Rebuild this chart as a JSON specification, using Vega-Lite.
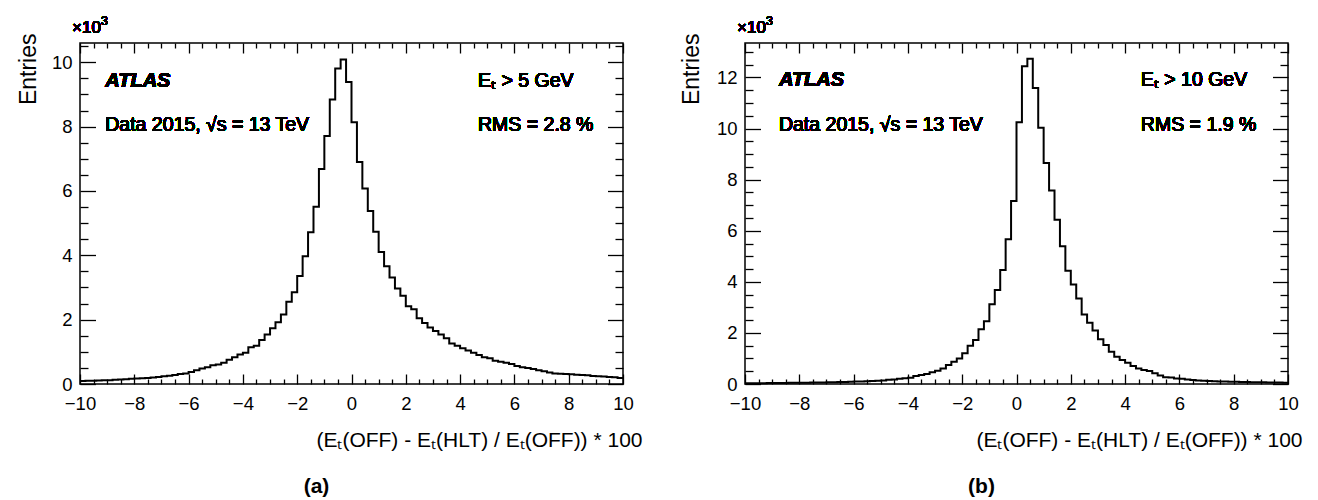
{
"$schema": "https://vega.github.io/schema/vega-lite/v6.json",
"background": "white",
"padding": {"left": 16, "top": 14, "right": 5, "bottom": 0},
"autosize": {"type": "pad"},
"spacing": 122,
"bounds": "flush",
"datasets": {
"a": [
{"lo":-10,"hi":-9.8,"n":90},{"lo":-9.8,"hi":-9.6,"n":100},{"lo":-9.6,"hi":-9.4,"n":100},{"lo":-9.4,"hi":-9.2,"n":110},{"lo":-9.2,"hi":-9,"n":120},
{"lo":-9,"hi":-8.8,"n":120},{"lo":-8.8,"hi":-8.6,"n":130},{"lo":-8.6,"hi":-8.4,"n":140},{"lo":-8.4,"hi":-8.2,"n":150},{"lo":-8.2,"hi":-8,"n":160},
{"lo":-8,"hi":-7.8,"n":170},{"lo":-7.8,"hi":-7.6,"n":180},{"lo":-7.6,"hi":-7.4,"n":190},{"lo":-7.4,"hi":-7.2,"n":200},{"lo":-7.2,"hi":-7,"n":220},
{"lo":-7,"hi":-6.8,"n":240},{"lo":-6.8,"hi":-6.6,"n":260},{"lo":-6.6,"hi":-6.4,"n":280},{"lo":-6.4,"hi":-6.2,"n":310},{"lo":-6.2,"hi":-6,"n":330},
{"lo":-6,"hi":-5.8,"n":370},{"lo":-5.8,"hi":-5.6,"n":430},{"lo":-5.6,"hi":-5.4,"n":480},{"lo":-5.4,"hi":-5.2,"n":520},{"lo":-5.2,"hi":-5,"n":580},
{"lo":-5,"hi":-4.8,"n":610},{"lo":-4.8,"hi":-4.6,"n":660},{"lo":-4.6,"hi":-4.4,"n":750},{"lo":-4.4,"hi":-4.2,"n":830},{"lo":-4.2,"hi":-4,"n":920},
{"lo":-4,"hi":-3.8,"n":970},{"lo":-3.8,"hi":-3.6,"n":1140},{"lo":-3.6,"hi":-3.4,"n":1190},{"lo":-3.4,"hi":-3.2,"n":1370},{"lo":-3.2,"hi":-3,"n":1540},
{"lo":-3,"hi":-2.8,"n":1730},{"lo":-2.8,"hi":-2.6,"n":1920},{"lo":-2.6,"hi":-2.4,"n":2160},{"lo":-2.4,"hi":-2.2,"n":2560},{"lo":-2.2,"hi":-2,"n":2850},
{"lo":-2,"hi":-1.8,"n":3360},{"lo":-1.8,"hi":-1.6,"n":3970},{"lo":-1.6,"hi":-1.4,"n":4720},{"lo":-1.4,"hi":-1.2,"n":5510},{"lo":-1.2,"hi":-1,"n":6680},
{"lo":-1,"hi":-0.8,"n":7710},{"lo":-0.8,"hi":-0.6,"n":8840},{"lo":-0.6,"hi":-0.4,"n":9810},{"lo":-0.4,"hi":-0.2,"n":10090},{"lo":-0.2,"hi":0,"n":9390},
{"lo":0,"hi":0.2,"n":8140},{"lo":0.2,"hi":0.4,"n":6900},{"lo":0.4,"hi":0.6,"n":6080},{"lo":0.6,"hi":0.8,"n":5380},{"lo":0.8,"hi":1,"n":4730},
{"lo":1,"hi":1.2,"n":4100},{"lo":1.2,"hi":1.4,"n":3660},{"lo":1.4,"hi":1.6,"n":3310},{"lo":1.6,"hi":1.8,"n":2970},{"lo":1.8,"hi":2,"n":2740},
{"lo":2,"hi":2.2,"n":2420},{"lo":2.2,"hi":2.4,"n":2320},{"lo":2.4,"hi":2.6,"n":2040},{"lo":2.6,"hi":2.8,"n":1900},{"lo":2.8,"hi":3,"n":1760},
{"lo":3,"hi":3.2,"n":1650},{"lo":3.2,"hi":3.4,"n":1540},{"lo":3.4,"hi":3.6,"n":1420},{"lo":3.6,"hi":3.8,"n":1260},{"lo":3.8,"hi":4,"n":1190},
{"lo":4,"hi":4.2,"n":1110},{"lo":4.2,"hi":4.4,"n":1040},{"lo":4.4,"hi":4.6,"n":970},{"lo":4.6,"hi":4.8,"n":900},{"lo":4.8,"hi":5,"n":830},
{"lo":5,"hi":5.2,"n":800},{"lo":5.2,"hi":5.4,"n":720},{"lo":5.4,"hi":5.6,"n":690},{"lo":5.6,"hi":5.8,"n":660},{"lo":5.8,"hi":6,"n":620},
{"lo":6,"hi":6.2,"n":560},{"lo":6.2,"hi":6.4,"n":520},{"lo":6.4,"hi":6.6,"n":500},{"lo":6.6,"hi":6.8,"n":470},{"lo":6.8,"hi":7,"n":430},
{"lo":7,"hi":7.2,"n":400},{"lo":7.2,"hi":7.4,"n":360},{"lo":7.4,"hi":7.6,"n":330},{"lo":7.6,"hi":7.8,"n":320},{"lo":7.8,"hi":8,"n":310},
{"lo":8,"hi":8.2,"n":300},{"lo":8.2,"hi":8.4,"n":290},{"lo":8.4,"hi":8.6,"n":280},{"lo":8.6,"hi":8.8,"n":270},{"lo":8.8,"hi":9,"n":250},
{"lo":9,"hi":9.2,"n":240},{"lo":9.2,"hi":9.4,"n":230},{"lo":9.4,"hi":9.6,"n":220},{"lo":9.6,"hi":9.8,"n":210},{"lo":9.8,"hi":10,"n":190}
],
"b": [
{"lo":-10,"hi":-9.8,"n":30},{"lo":-9.8,"hi":-9.6,"n":30},{"lo":-9.6,"hi":-9.4,"n":30},{"lo":-9.4,"hi":-9.2,"n":30},{"lo":-9.2,"hi":-9,"n":40},
{"lo":-9,"hi":-8.8,"n":40},{"lo":-8.8,"hi":-8.6,"n":40},{"lo":-8.6,"hi":-8.4,"n":40},{"lo":-8.4,"hi":-8.2,"n":50},{"lo":-8.2,"hi":-8,"n":50},
{"lo":-8,"hi":-7.8,"n":50},{"lo":-7.8,"hi":-7.6,"n":50},{"lo":-7.6,"hi":-7.4,"n":60},{"lo":-7.4,"hi":-7.2,"n":60},{"lo":-7.2,"hi":-7,"n":60},
{"lo":-7,"hi":-6.8,"n":70},{"lo":-6.8,"hi":-6.6,"n":70},{"lo":-6.6,"hi":-6.4,"n":80},{"lo":-6.4,"hi":-6.2,"n":80},{"lo":-6.2,"hi":-6,"n":90},
{"lo":-6,"hi":-5.8,"n":100},{"lo":-5.8,"hi":-5.6,"n":100},{"lo":-5.6,"hi":-5.4,"n":110},{"lo":-5.4,"hi":-5.2,"n":120},{"lo":-5.2,"hi":-5,"n":130},
{"lo":-5,"hi":-4.8,"n":140},{"lo":-4.8,"hi":-4.6,"n":170},{"lo":-4.6,"hi":-4.4,"n":180},{"lo":-4.4,"hi":-4.2,"n":210},{"lo":-4.2,"hi":-4,"n":230},
{"lo":-4,"hi":-3.8,"n":240},{"lo":-3.8,"hi":-3.6,"n":310},{"lo":-3.6,"hi":-3.4,"n":350},{"lo":-3.4,"hi":-3.2,"n":390},{"lo":-3.2,"hi":-3,"n":460},
{"lo":-3,"hi":-2.8,"n":520},{"lo":-2.8,"hi":-2.6,"n":610},{"lo":-2.6,"hi":-2.4,"n":740},{"lo":-2.4,"hi":-2.2,"n":870},{"lo":-2.2,"hi":-2,"n":1000},
{"lo":-2,"hi":-1.8,"n":1200},{"lo":-1.8,"hi":-1.6,"n":1500},{"lo":-1.6,"hi":-1.4,"n":1720},{"lo":-1.4,"hi":-1.2,"n":2140},{"lo":-1.2,"hi":-1,"n":2460},
{"lo":-1,"hi":-0.8,"n":3120},{"lo":-0.8,"hi":-0.6,"n":3680},{"lo":-0.6,"hi":-0.4,"n":4460},{"lo":-0.4,"hi":-0.2,"n":5670},{"lo":-0.2,"hi":0,"n":7160},
{"lo":0,"hi":0.2,"n":10250},{"lo":0.2,"hi":0.4,"n":12440},{"lo":0.4,"hi":0.6,"n":12730},{"lo":0.6,"hi":0.8,"n":11590},{"lo":0.8,"hi":1,"n":10030},
{"lo":1,"hi":1.2,"n":8650},{"lo":1.2,"hi":1.4,"n":7580},{"lo":1.4,"hi":1.6,"n":6430},{"lo":1.6,"hi":1.8,"n":5390},{"lo":1.8,"hi":2,"n":4430},
{"lo":2,"hi":2.2,"n":3900},{"lo":2.2,"hi":2.4,"n":3350},{"lo":2.4,"hi":2.6,"n":2720},{"lo":2.6,"hi":2.8,"n":2400},{"lo":2.8,"hi":3,"n":2090},
{"lo":3,"hi":3.2,"n":1750},{"lo":3.2,"hi":3.4,"n":1530},{"lo":3.4,"hi":3.6,"n":1260},{"lo":3.6,"hi":3.8,"n":1070},{"lo":3.8,"hi":4,"n":940},
{"lo":4,"hi":4.2,"n":830},{"lo":4.2,"hi":4.4,"n":700},{"lo":4.4,"hi":4.6,"n":610},{"lo":4.6,"hi":4.8,"n":550},{"lo":4.8,"hi":5,"n":510},
{"lo":5,"hi":5.2,"n":420},{"lo":5.2,"hi":5.4,"n":330},{"lo":5.4,"hi":5.6,"n":260},{"lo":5.6,"hi":5.8,"n":250},{"lo":5.8,"hi":6,"n":220},
{"lo":6,"hi":6.2,"n":210},{"lo":6.2,"hi":6.4,"n":180},{"lo":6.4,"hi":6.6,"n":160},{"lo":6.6,"hi":6.8,"n":140},{"lo":6.8,"hi":7,"n":130},
{"lo":7,"hi":7.2,"n":120},{"lo":7.2,"hi":7.4,"n":110},{"lo":7.4,"hi":7.6,"n":100},{"lo":7.6,"hi":7.8,"n":100},{"lo":7.8,"hi":8,"n":90},
{"lo":8,"hi":8.2,"n":90},{"lo":8.2,"hi":8.4,"n":80},{"lo":8.4,"hi":8.6,"n":80},{"lo":8.6,"hi":8.8,"n":70},{"lo":8.8,"hi":9,"n":70},
{"lo":9,"hi":9.2,"n":70},{"lo":9.2,"hi":9.4,"n":60},{"lo":9.4,"hi":9.6,"n":60},{"lo":9.6,"hi":9.8,"n":60},{"lo":9.8,"hi":10,"n":50}
]
},
"hconcat": [
{
"width": 543, "height": 341,
"data": {"name": "a"},
"title": {"text": "(a)", "orient": "bottom", "anchor": "middle", "dx": -35, "offset": 26, "font": "Liberation Sans", "fontSize": 21, "fontWeight": "bold", "color": "black"},
"resolve": {"axis": {"x": "independent", "y": "independent"}},
"layer": [
{
"transform": [{"fold": ["lo", "hi"], "as": ["edge", "xv"]}],
"mark": {"type": "line", "color": "black", "strokeWidth": 2},
"encoding": {
"x": {"field": "xv", "type": "quantitative", "scale": {"domain": [-10, 10], "nice": false, "zero": false},
"axis": {"orient": "bottom", "values": [-10,-9.5,-9,-8.5,-8,-7.5,-7,-6.5,-6,-5.5,-5,-4.5,-4,-3.5,-3,-2.5,-2,-1.5,-1,-0.5,0,0.5,1,1.5,2,2.5,3,3.5,4,4.5,5,5.5,6,6.5,7,7.5,8,8.5,9,9.5,10],
"domain": false, "grid": false,
"tickSize": {"condition": {"test": "datum.value % 2 === 0", "value": -10}, "value": -5},
"labelExpr": "datum.value % 2 === 0 ? format(datum.value, 'd') : ''",
"labelPadding": 20, "labelFlush": false, "labelOverlap": false, "labelBaseline": "top",
"labelFont": "Liberation Sans", "labelFontSize": 18.5, "labelColor": "black",
"tickColor": "black", "tickWidth": 1.3,
"title": "(Eₜ(OFF) - Eₜ(HLT) / Eₜ(OFF)) * 100", "titleFont": "Liberation Sans", "titleFontSize": 21, "titleFontWeight": "normal", "titleColor": "black",
"titleAnchor": "end", "titleAlign": "right", "titleX": 562, "titleY": 62, "titleBaseline": "alphabetic"}},
"y": {"field": "n", "type": "quantitative", "scale": {"domain": [0, 10600], "nice": false},
"axis": {"orient": "left", "values": [0,500,1000,1500,2000,2500,3000,3500,4000,4500,5000,5500,6000,6500,7000,7500,8000,8500,9000,9500,10000,10500],
"domain": false, "grid": false,
"tickSize": {"condition": {"test": "datum.value % 2000 === 0", "value": -15.5}, "value": -8},
"labelExpr": "datum.value % 2000 === 0 ? format(datum.value / 1000, 'd') : ''",
"labelPadding": 23.5, "labelOverlap": false, "labelFlush": false,
"labelFont": "Liberation Sans", "labelFontSize": 18.5, "labelColor": "black",
"tickColor": "black", "tickWidth": 1.3,
"title": "Entries", "titleFont": "Liberation Sans", "titleFontSize": 23, "titleFontWeight": "normal", "titleColor": "black",
"titleAngle": 270, "titleAlign": "right", "titleAnchor": "end", "titleX": -52, "titleY": -10, "titleBaseline": "middle"}},
"order": [{"field": "xv", "type": "quantitative"}, {"field": "edge"}]
}
},
{
"mark": {"type": "text", "align": "left", "baseline": "middle", "font": "Liberation Sans", "fontSize": 20, "fontWeight": "bold", "fontStyle": "italic", "color": "black", "text": "ATLAS"},
"encoding": {
"x": {"datum": -9.07, "type": "quantitative", "scale": {"domain": [-10, 10], "nice": false, "zero": false},
"axis": {"orient": "top", "values": [-10,-9.5,-9,-8.5,-8,-7.5,-7,-6.5,-6,-5.5,-5,-4.5,-4,-3.5,-3,-2.5,-2,-1.5,-1,-0.5,0,0.5,1,1.5,2,2.5,3,3.5,4,4.5,5,5.5,6,6.5,7,7.5,8,8.5,9,9.5,10],
"domain": false, "grid": false, "labels": false, "title": null,
"tickSize": {"condition": {"test": "datum.value % 2 === 0", "value": -10}, "value": -5},
"tickColor": "black", "tickWidth": 1.3}},
"y": {"datum": 9430, "type": "quantitative", "scale": {"domain": [0, 10600], "nice": false},
"axis": {"orient": "right", "values": [0,500,1000,1500,2000,2500,3000,3500,4000,4500,5000,5500,6000,6500,7000,7500,8000,8500,9000,9500,10000,10500],
"domain": false, "grid": false, "labels": false, "title": null,
"tickSize": {"condition": {"test": "datum.value % 2000 === 0", "value": -15.5}, "value": -8},
"tickColor": "black", "tickWidth": 1.3}}
}
},
{
"mark": {"type": "text", "align": "left", "baseline": "middle", "font": "Liberation Sans", "fontSize": 19.5, "color": "black", "text": "Data 2015, √s = 13 TeV"},
"encoding": {"x": {"datum": -9.07, "type": "quantitative", "axis": null}, "y": {"datum": 8040, "type": "quantitative", "axis": null}}
},
{
"mark": {"type": "text", "align": "left", "baseline": "middle", "font": "Liberation Sans", "fontSize": 19.5, "color": "black", "text": "Eₜ > 5 GeV"},
"encoding": {"x": {"datum": 4.66, "type": "quantitative", "axis": null}, "y": {"datum": 9430, "type": "quantitative", "axis": null}}
},
{
"mark": {"type": "text", "align": "left", "baseline": "middle", "font": "Liberation Sans", "fontSize": 19.5, "color": "black", "text": "RMS = 2.8 %"},
"encoding": {"x": {"datum": 4.66, "type": "quantitative", "axis": null}, "y": {"datum": 8040, "type": "quantitative", "axis": null}}
},
{
"mark": {"type": "text", "align": "left", "baseline": "alphabetic", "dx": -8, "dy": -10, "font": "Liberation Sans", "fontSize": 17, "color": "black", "text": "×10"},
"encoding": {"x": {"datum": -10, "type": "quantitative", "axis": null}, "y": {"datum": 10600, "type": "quantitative", "axis": null}}
},
{
"mark": {"type": "text", "align": "left", "baseline": "alphabetic", "dx": 21, "dy": -18, "font": "Liberation Sans", "fontSize": 12.5, "color": "black", "text": "3"},
"encoding": {"x": {"datum": -10, "type": "quantitative", "axis": null}, "y": {"datum": 10600, "type": "quantitative", "axis": null}}
}
]
},
{
"width": 543, "height": 341,
"data": {"name": "b"},
"title": {"text": "(b)", "orient": "bottom", "anchor": "middle", "dx": -35, "offset": 26, "font": "Liberation Sans", "fontSize": 21, "fontWeight": "bold", "color": "black"},
"resolve": {"axis": {"x": "independent", "y": "independent"}},
"layer": [
{
"transform": [{"fold": ["lo", "hi"], "as": ["edge", "xv"]}],
"mark": {"type": "line", "color": "black", "strokeWidth": 2},
"encoding": {
"x": {"field": "xv", "type": "quantitative", "scale": {"domain": [-10, 10], "nice": false, "zero": false},
"axis": {"orient": "bottom", "values": [-10,-9.5,-9,-8.5,-8,-7.5,-7,-6.5,-6,-5.5,-5,-4.5,-4,-3.5,-3,-2.5,-2,-1.5,-1,-0.5,0,0.5,1,1.5,2,2.5,3,3.5,4,4.5,5,5.5,6,6.5,7,7.5,8,8.5,9,9.5,10],
"domain": false, "grid": false,
"tickSize": {"condition": {"test": "datum.value % 2 === 0", "value": -10}, "value": -5},
"labelExpr": "datum.value % 2 === 0 ? format(datum.value, 'd') : ''",
"labelPadding": 20, "labelFlush": false, "labelOverlap": false, "labelBaseline": "top",
"labelFont": "Liberation Sans", "labelFontSize": 18.5, "labelColor": "black",
"tickColor": "black", "tickWidth": 1.3,
"title": "(Eₜ(OFF) - Eₜ(HLT) / Eₜ(OFF)) * 100", "titleFont": "Liberation Sans", "titleFontSize": 21, "titleFontWeight": "normal", "titleColor": "black",
"titleAnchor": "end", "titleAlign": "right", "titleX": 557, "titleY": 62, "titleBaseline": "alphabetic"}},
"y": {"field": "n", "type": "quantitative", "scale": {"domain": [0, 13350], "nice": false},
"axis": {"orient": "left", "values": [0,500,1000,1500,2000,2500,3000,3500,4000,4500,5000,5500,6000,6500,7000,7500,8000,8500,9000,9500,10000,10500,11000,11500,12000,12500,13000],
"domain": false, "grid": false,
"tickSize": {"condition": {"test": "datum.value % 2000 === 0", "value": -15.5}, "value": -8},
"labelExpr": "datum.value % 2000 === 0 ? format(datum.value / 1000, 'd') : ''",
"labelPadding": 23.5, "labelOverlap": false, "labelFlush": false,
"labelFont": "Liberation Sans", "labelFontSize": 18.5, "labelColor": "black",
"tickColor": "black", "tickWidth": 1.3,
"title": "Entries", "titleFont": "Liberation Sans", "titleFontSize": 23, "titleFontWeight": "normal", "titleColor": "black",
"titleAngle": 270, "titleAlign": "right", "titleAnchor": "end", "titleX": -54, "titleY": -10, "titleBaseline": "middle"}},
"order": [{"field": "xv", "type": "quantitative"}, {"field": "edge"}]
}
},
{
"mark": {"type": "text", "align": "left", "baseline": "middle", "font": "Liberation Sans", "fontSize": 20, "fontWeight": "bold", "fontStyle": "italic", "color": "black", "text": "ATLAS"},
"encoding": {
"x": {"datum": -8.75, "type": "quantitative", "scale": {"domain": [-10, 10], "nice": false, "zero": false},
"axis": {"orient": "top", "values": [-10,-9.5,-9,-8.5,-8,-7.5,-7,-6.5,-6,-5.5,-5,-4.5,-4,-3.5,-3,-2.5,-2,-1.5,-1,-0.5,0,0.5,1,1.5,2,2.5,3,3.5,4,4.5,5,5.5,6,6.5,7,7.5,8,8.5,9,9.5,10],
"domain": false, "grid": false, "labels": false, "title": null,
"tickSize": {"condition": {"test": "datum.value % 2 === 0", "value": -10}, "value": -5},
"tickColor": "black", "tickWidth": 1.3}},
"y": {"datum": 11890, "type": "quantitative", "scale": {"domain": [0, 13350], "nice": false},
"axis": {"orient": "right", "values": [0,500,1000,1500,2000,2500,3000,3500,4000,4500,5000,5500,6000,6500,7000,7500,8000,8500,9000,9500,10000,10500,11000,11500,12000,12500,13000],
"domain": false, "grid": false, "labels": false, "title": null,
"tickSize": {"condition": {"test": "datum.value % 2000 === 0", "value": -15.5}, "value": -8},
"tickColor": "black", "tickWidth": 1.3}}
}
},
{
"mark": {"type": "text", "align": "left", "baseline": "middle", "font": "Liberation Sans", "fontSize": 19.5, "color": "black", "text": "Data 2015, √s = 13 TeV"},
"encoding": {"x": {"datum": -8.75, "type": "quantitative", "axis": null}, "y": {"datum": 10130, "type": "quantitative", "axis": null}}
},
{
"mark": {"type": "text", "align": "left", "baseline": "middle", "font": "Liberation Sans", "fontSize": 19.5, "color": "black", "text": "Eₜ > 10 GeV"},
"encoding": {"x": {"datum": 4.58, "type": "quantitative", "axis": null}, "y": {"datum": 11890, "type": "quantitative", "axis": null}}
},
{
"mark": {"type": "text", "align": "left", "baseline": "middle", "font": "Liberation Sans", "fontSize": 19.5, "color": "black", "text": "RMS = 1.9 %"},
"encoding": {"x": {"datum": 4.58, "type": "quantitative", "axis": null}, "y": {"datum": 10130, "type": "quantitative", "axis": null}}
},
{
"mark": {"type": "text", "align": "left", "baseline": "alphabetic", "dx": -8, "dy": -10, "font": "Liberation Sans", "fontSize": 17, "color": "black", "text": "×10"},
"encoding": {"x": {"datum": -10, "type": "quantitative", "axis": null}, "y": {"datum": 13350, "type": "quantitative", "axis": null}}
},
{
"mark": {"type": "text", "align": "left", "baseline": "alphabetic", "dx": 21, "dy": -18, "font": "Liberation Sans", "fontSize": 12.5, "color": "black", "text": "3"},
"encoding": {"x": {"datum": -10, "type": "quantitative", "axis": null}, "y": {"datum": 13350, "type": "quantitative", "axis": null}}
}
]
}
],
"config": {
"view": {"stroke": "black", "strokeWidth": 1.5},
"axis": {"grid": false}
}
}
